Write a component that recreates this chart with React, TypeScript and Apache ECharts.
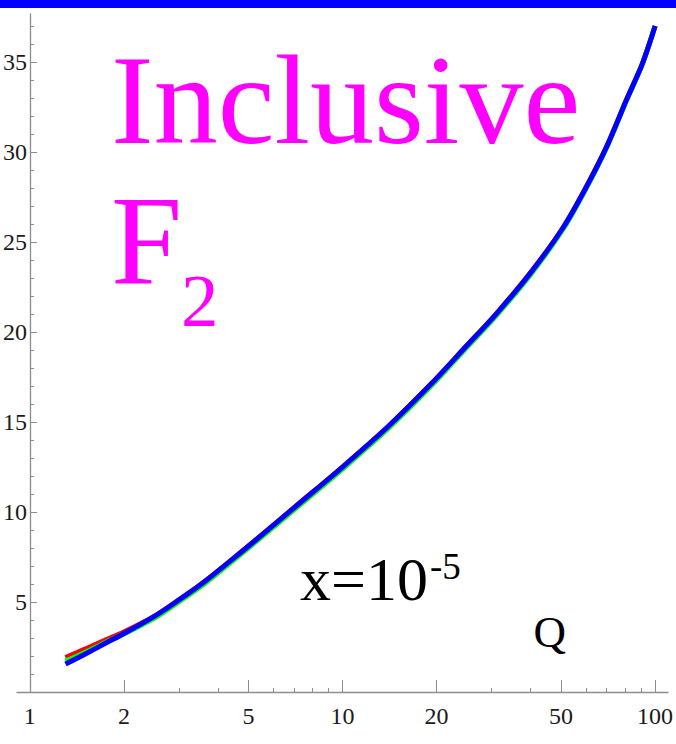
import React, { useEffect, useRef } from "react";
import * as echarts from "echarts";

// Q grid and F2 values for the three predictions at x = 1e-5
const Q_VALUES = [1.3, 1.5, 1.75, 2, 2.5, 3, 3.6, 4.5, 5.2, 7.3, 10, 14, 19.3, 25, 31, 40, 51, 60, 70, 81, 91, 100];
const F2_RED = [1.92, 2.38, 2.9, 3.34, 4.2, 5.12, 6.1, 7.45, 8.35, 10.5, 12.5, 14.75, 17.15, 19.25, 21.0, 23.3, 25.85, 28.0, 30.3, 32.9, 34.9, 37.0];
const F2_GREEN = [1.72, 2.2, 2.77, 3.22, 4.1, 5.02, 5.99, 7.34, 8.24, 10.39, 12.39, 14.64, 17.04, 19.15, 20.9, 23.2, 25.77, 27.93, 30.25, 32.87, 34.88, 37.0];
const F2_BLUE = [1.55, 2.1, 2.72, 3.25, 4.2, 5.12, 6.1, 7.45, 8.35, 10.5, 12.5, 14.75, 17.15, 19.25, 21.0, 23.3, 25.85, 28.0, 30.3, 32.9, 34.9, 37.0];

// Axis ticks
const X_MAJOR_TICKS = [1, 2, 5, 10, 20, 50, 100];
const X_MINOR_TICKS = [3, 4, 6, 7, 8, 9, 30, 40, 60, 70, 80, 90];
const Y_MAJOR_TICKS = [5, 10, 15, 20, 25, 30, 35];
const Y_MINOR_TICKS = [1, 2, 3, 4, 6, 7, 8, 9, 11, 12, 13, 14, 16, 17, 18, 19, 21, 22, 23, 24, 26, 27, 28, 29, 31, 32, 33, 34, 36, 37];

const X_MIN = 0.9096;
const X_MAX = 109.9;
const Y_MAX = 37.67;

const SERIF = "'Liberation Serif', 'Times New Roman', serif";
const AXIS_GRAY = "#8c8c8c";

const pairs = (ys: number[]) => Q_VALUES.map((q, i) => [q, ys[i]]);

export default function App() {
  const ref = useRef<HTMLDivElement>(null);

  useEffect(() => {
    if (!ref.current) return;
    const chart = echarts.init(ref.current, undefined, { renderer: "svg" });

    const baseX = {
      type: "log" as const,
      logBase: 10,
      min: X_MIN,
      max: X_MAX,
      position: "bottom" as const,
      splitLine: { show: false },
      minorTick: { show: false },
    };
    const baseY = {
      type: "value" as const,
      min: 0,
      max: Y_MAX,
      position: "left" as const,
      offset: -13,
      splitLine: { show: false },
    };

    const line = (name: string, color: string, ys: number[]) => ({
      name,
      type: "line" as const,
      data: pairs(ys),
      showSymbol: false,
      symbol: "none",
      smooth: 0.3,
      lineStyle: { color, width: 5 },
      xAxisIndex: 0,
      yAxisIndex: 0,
    });

    chart.setOption({
      animation: false,
      backgroundColor: "#ffffff",
      grid: { left: 11, right: 7, top: 14, bottom: 52, containLabel: false },
      xAxis: [
        {
          ...baseX,
          axisLine: { show: true, lineStyle: { color: AXIS_GRAY, width: 1.3 } },
          axisTick: {
            show: true,
            inside: true,
            length: 12,
            customValues: X_MAJOR_TICKS,
            lineStyle: { color: AXIS_GRAY, width: 1 },
          },
          axisLabel: {
            show: true,
            customValues: X_MAJOR_TICKS,
            margin: 12,
            color: "#1a1a1a",
            fontFamily: SERIF,
            fontSize: 24,
            formatter: (v: number) => String(Math.round(v)),
          },
        },
        {
          ...baseX,
          axisLine: { show: false },
          axisTick: {
            show: true,
            inside: true,
            length: 4,
            customValues: X_MINOR_TICKS,
            lineStyle: { color: AXIS_GRAY, width: 1 },
          },
          axisLabel: { show: false },
        },
      ],
      yAxis: [
        {
          ...baseY,
          axisLine: { show: true, lineStyle: { color: AXIS_GRAY, width: 1.3 } },
          axisTick: {
            show: true,
            inside: true,
            length: 7,
            customValues: Y_MAJOR_TICKS,
            lineStyle: { color: AXIS_GRAY, width: 1 },
          },
          axisLabel: {
            show: true,
            customValues: Y_MAJOR_TICKS,
            margin: 3,
            color: "#1a1a1a",
            fontFamily: SERIF,
            fontSize: 24,
          },
        },
        {
          ...baseY,
          axisLine: { show: false },
          axisTick: {
            show: true,
            inside: true,
            length: 4,
            customValues: Y_MINOR_TICKS,
            lineStyle: { color: AXIS_GRAY, width: 1 },
          },
          axisLabel: { show: false },
        },
      ],
      series: [
        line("red", "#ff0000", F2_RED),
        line("green", "#00ff00", F2_GREEN),
        line("blue", "#0000ff", F2_BLUE),
      ],
      graphic: [
        {
          type: "rect",
          left: 0,
          top: 0,
          shape: { width: 676, height: 8 },
          style: { fill: "#0000ff" },
          silent: true,
        },
        {
          type: "text",
          x: 111,
          y: 99.5,
          style: {
            text: "Inclusive",
            font: `128px ${SERIF}`,
            fill: "#ff00ff",
            verticalAlign: "middle",
          },
        },
        {
          type: "text",
          x: 111,
          y: 240,
          style: {
            text: "F",
            font: `128px ${SERIF}`,
            fill: "#ff00ff",
            verticalAlign: "middle",
          },
        },
        {
          type: "text",
          x: 181,
          y: 300.7,
          style: {
            text: "2",
            font: `75px ${SERIF}`,
            fill: "#ff00ff",
            verticalAlign: "middle",
          },
        },
        {
          type: "text",
          x: 300,
          y: 579,
          style: {
            text: "x=10",
            font: `62px ${SERIF}`,
            fill: "#000000",
            verticalAlign: "middle",
          },
        },
        {
          type: "text",
          x: 430,
          y: 566.8,
          style: {
            text: "-5",
            font: `37px ${SERIF}`,
            fill: "#000000",
            verticalAlign: "middle",
          },
        },
        {
          type: "text",
          x: 533.5,
          y: 632,
          style: {
            text: "Q",
            font: `45px ${SERIF}`,
            fill: "#000000",
            verticalAlign: "middle",
          },
        },
      ],
    });

    return () => chart.dispose();
  }, []);

  return (
    <div
      ref={ref}
      style={{ position: "fixed", left: 0, top: 0, width: 676, height: 744, background: "#fff" }}
    />
  );
}
